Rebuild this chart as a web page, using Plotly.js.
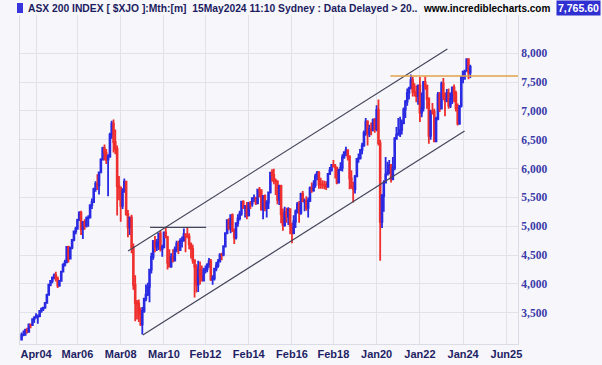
<!DOCTYPE html>
<html><head><meta charset="utf-8">
<script src="https://cdn.plot.ly/plotly-3.0.1.min.js"></script>
<style>html,body{margin:0;padding:0;background:#f7f7fb;} #chart{width:602px;height:365px;}</style>
</head><body><div id="chart"></div>
<script>
// Monthly ASX 200 ($XJO), first bar = Aug 2003
const firstYear = 2003, firstMonth = 8;
const openV = [
 3035,3115,3116,3199,3169,
 3299,3291,3386,3416,3434,3440,3533,3568,3589,3670,3811,3985,
 4050,4107,4150,4090,3972,4051,4211,4331,4373,4641,4438,4630,
 4763,4910,4959,5105,5230,4952,5073,5013,5140,5150,5366,5420,
 5644,5736,5711,5934,6155,6354,6274,6157,6209,6590,6779,6460,
 6340,5697,5674,5355,5599,5773,5215,4980,5150,4631,3982,3672,
 3659,3478,3296,3532,3745,3812,3948,4249,4469,4740,4646,4715,
 4870,4606,4632,4893,4809,4367,4301,4470,4405,4598,4697,4584,
 4745,4753,4862,4837,4823,4689,4608,4412,4296,3986,4243,4139,
 4057,4234,4257,4335,4396,4077,4095,4263,4317,4387,4509,4506,
 4649,4879,5104,4967,5191,4926,4803,5052,5135,5218,5425,5320,
 5352,5190,5404,5395,5489,5493,5396,5633,5625,5292,5526,5313,
 5411,5588,5929,5891,5790,5777,5459,5699,5207,5021,5239,5167,
 5296,5005,4880,5082,5252,5378,5233,5562,5433,5435,5317,5440,
 5665,5621,5712,5864,5924,5724,5721,5720,5715,5682,5909,5969,
 6065,6037,6016,5759,5983,6011,6195,6280,6320,6208,5830,5668,
 5646,5865,6169,6181,6326,6397,6619,6813,6604,6688,6663,6846,
 6684,7017,6441,5077,5522,5756,5898,5928,6061,5816,6011,6518,
 6587,6607,6673,6791,7025,7162,7313,7393,7535,7332,7324,7256,
 7445,6971,7049,7500,7435,7211,6568,6993,6987,6474,6863,7284,
 7039,7476,7258,7178,7309,7091,7203,7410,7305,7049,6781,7087,
 7591,7681,7699,7897,7664
];
const highV = [
 3155,3190,3220,3240,3310,
 3310,3400,3440,3490,3470,3545,3590,3600,3680,3830,4000,4060,
 4130,4180,4210,4130,4060,4230,4360,4420,4650,4660,4640,4780,
 4920,4990,5130,5260,5270,5090,5120,5170,5190,5370,5480,5670,
 5780,5900,5950,6180,6380,6420,6340,6250,6620,6830,6851,6680,
 6400,5870,5680,5660,5830,5780,5280,5170,5200,4700,4150,3720,
 3730,3590,3600,3760,3990,4020,4260,4540,4760,4830,4780,4890,
 4920,4680,4900,4980,4830,4600,4530,4600,4650,4750,4750,4790,
 4820,4960,4870,4970,4880,4720,4680,4420,4340,4400,4390,4320,
 4280,4320,4360,4450,4430,4150,4280,4380,4430,4530,4540,4670,
 4890,5110,5140,5200,5220,4960,5060,5210,5270,5440,5450,5360,
 5420,5420,5440,5500,5550,5510,5640,5680,5630,5530,5550,5450,
 5590,5940,5990,5996,5830,5800,5720,5720,5310,5340,5320,5330,
 5300,5060,5190,5290,5420,5440,5580,5610,5480,5520,5500,5690,
 5760,5800,5910,5960,5960,5840,5800,5790,5780,5920,6030,6080,
 6150,6080,6030,5990,6110,6250,6300,6380,6330,6230,5970,5770,
 5890,6180,6260,6330,6450,6660,6880,6840,6760,6800,6870,6880,
 7100,7197,6500,5560,5800,6200,6120,6150,6080,6200,6550,6720,
 6880,6900,6850,7060,7190,7390,7420,7632,7600,7480,7440,7460,
 7590,7320,7520,7600,7460,7240,7020,7140,7040,6900,7330,7330,
 7510,7570,7320,7380,7390,7320,7420,7460,7350,7130,7090,7600,
 7690,7710,7910,7900,7800
];
const lowV = [
 3030,3090,3110,3140,3160,
 3230,3270,3320,3400,3310,3420,3500,3530,3570,3660,3800,3960,
 4010,4080,4040,3930,3950,4040,4200,4300,4370,4370,4430,4600,
 4740,4860,4940,5100,4850,4780,4940,4980,4990,5140,5300,5410,
 5600,5630,5550,5930,6140,6140,6080,5520,6190,6520,6280,6250,
 5187,5450,5080,5300,5580,5180,4810,4850,4530,3900,3350,3380,
 3340,3270,3120,3500,3700,3790,3680,4180,4420,4550,4570,4590,
 4560,4470,4620,4800,4250,4290,4280,4370,4390,4550,4520,4570,
 4630,4730,4550,4790,4600,4440,4350,3765,3850,3860,3990,4050,
 4040,4180,4200,4280,4050,3985,4060,4220,4280,4380,4410,4480,
 4640,4860,4930,4880,4900,4690,4770,4990,5100,5180,5300,5150,
 5120,5170,5300,5340,5420,5370,5390,5500,5270,5120,5260,5150,
 5300,5570,5770,5730,5540,5380,5370,5050,4920,4990,5060,5020,
 4860,4707,4860,4970,5220,5060,5200,5430,5260,5270,5150,5420,
 5580,5600,5670,5800,5650,5650,5650,5640,5630,5670,5890,5950,
 6020,5830,5730,5750,5960,5950,6170,6220,6140,5640,5660,5410,
 5570,5850,6100,6160,6250,6380,6570,6400,6550,6580,6660,6620,
 6650,6400,4402,4970,5250,5740,5880,5900,5760,5800,5970,6500,
 6570,6550,6590,6770,6880,7090,7200,7380,7250,7250,7150,7110,
 6810,6890,6990,7370,7040,6430,6500,6940,6460,6480,6840,6980,
 7030,7190,6910,7150,7040,7050,7120,7150,6990,6750,6760,7060,
 7480,7540,7680,7550,7570
];
const closeV = [
 3115,3116,3199,3169,3299,
 3291,3386,3416,3434,3440,3533,3568,3589,3670,3811,3985,4050,
 4107,4150,4090,3972,4051,4211,4331,4373,4641,4438,4630,4763,
 4910,4959,5105,5230,4952,5073,5013,5140,5150,5366,5420,5644,
 5736,5711,5934,6155,6354,6274,6157,6209,6590,6779,6460,6340,
 5697,5674,5355,5599,5773,5215,4980,5150,4631,3982,3672,3659,
 3478,3296,3532,3745,3812,3948,4249,4469,4740,4646,4715,4870,
 4606,4632,4893,4809,4367,4301,4470,4405,4598,4697,4584,4745,
 4753,4862,4837,4823,4689,4608,4412,4296,3986,4243,4139,4057,
 4234,4257,4335,4396,4077,4095,4263,4317,4387,4509,4506,4649,
 4879,5104,4967,5191,4926,4803,5052,5135,5218,5425,5320,5352,
 5190,5404,5395,5489,5493,5396,5633,5625,5292,5526,5313,5411,
 5588,5929,5891,5790,5777,5459,5699,5207,5021,5239,5167,5296,
 5005,4880,5082,5252,5378,5233,5562,5433,5435,5317,5440,5665,
 5621,5712,5864,5924,5724,5721,5720,5715,5682,5909,5969,6065,
 6037,6016,5759,5983,6011,6195,6280,6320,6208,5830,5668,5646,
 5865,6169,6181,6326,6397,6619,6813,6604,6688,6663,6846,6684,
 7017,6441,5077,5522,5756,5898,5928,6061,5816,6011,6518,6587,
 6607,6673,6791,7025,7162,7313,7393,7535,7332,7324,7256,7445,
 6971,7049,7500,7435,7211,6568,6993,6987,6474,6863,7284,7039,
 7476,7258,7178,7309,7091,7203,7410,7305,7049,6781,7087,7591,
 7681,7699,7897,7664,7766
];
const tickDates = ['2004-04-01','2006-03-01','2008-03-01','2010-03-01','2012-02-01','2014-02-01',
                   '2016-02-01','2018-01-01','2020-01-01','2022-01-01','2024-01-01','2026-01-01'];
const tickLabels = ['Apr04','Mar06','Mar08','Mar10','Feb12','Feb14','Feb16','Feb18','Jan20','Jan22','Jan24','Jun25'];
const yTicks = [3500,4000,4500,5000,5500,6000,6500,7000,7500,8000];
// drawn trend lines
const upperChannelX = ['2008-07-04','2023-04-10'], upperChannelY = [4570, 8075];
const lowerChannelX = ['2009-03-10','2024-01-25'], lowerChannelY = [3113, 6651];
const resistanceX = ['2009-07-10','2012-02-12'], resistanceY = [4980, 4980];
const orangeX = ['2020-08-21','2026-07-16'], orangeY = [7606, 7606];
const headerText = 'ASX 200 INDEX [ $XJO ]:Mth:[m]\u00a0\u00a015May2024 11:10 Sydney : Data Delayed > 20..';
const siteText = 'www.incrediblecharts.com';
const lastPrice = '7,765.60';

const months = [];
for (let i = 0; i < closeV.length; i++) {
  const t = firstMonth - 1 + i;
  const y = firstYear + Math.floor(t / 12), m = (t % 12) + 1;
  months.push(y + '-' + String(m).padStart(2, '0') + '-01');
}

const BLUE = '#2a2ae2', RED = '#ef2e2e';
const traces = [
  {type:'candlestick', x:months, open:openV, high:highV, low:lowV, close:closeV,
   increasing:{line:{color:BLUE,width:1.8}, fillcolor:BLUE},
   decreasing:{line:{color:RED,width:1.8}, fillcolor:RED},
   whiskerwidth:0, hoverinfo:'skip'},
  {type:'scatter', mode:'lines', x:upperChannelX, y:upperChannelY, line:{color:'#44445a',width:1.2}, hoverinfo:'skip'},
  {type:'scatter', mode:'lines', x:lowerChannelX, y:lowerChannelY, line:{color:'#44445a',width:1.2}, hoverinfo:'skip'},
  {type:'scatter', mode:'lines', x:resistanceX, y:resistanceY, line:{color:'#44445a',width:1.4}, hoverinfo:'skip'},
  {type:'scatter', mode:'lines', x:orangeX, y:orangeY, line:{color:'#e2a24a',width:1.5}, hoverinfo:'skip'}
];

const L = 20, R = 518, T = 15, B = 344;
const px = v => (v - L) / (R - L);
const py = v => (B - v) / (B - T);

const layout = {
  width:602, height:365,
  margin:{l:L, r:602-R, t:T, b:365-B, pad:0},
  paper_bgcolor:'#f7f7fb', plot_bgcolor:'#f7f7fb',
  showlegend:false,
  xaxis:{type:'date', range:['2003-07-05','2026-07-16'], tickmode:'array', tickvals:tickDates, ticktext:tickLabels,
         showgrid:true, gridcolor:'#e2e2ea', gridwidth:1, zeroline:false, ticks:'',
         showline:true, linecolor:'#dcdce6', linewidth:1,
         rangeslider:{visible:false},
         tickfont:{family:'Liberation Sans, Arial, sans-serif', size:11, color:'#1e1e64', weight:'bold'}},
  yaxis:{side:'right', range:[2957, 8665], tickmode:'array', tickvals:yTicks, tickformat:',d',
         showgrid:true, gridcolor:'#e2e2ea', gridwidth:1, zeroline:false, ticks:'',
         showline:true, mirror:true, linecolor:'#dcdce6', linewidth:1,
         tickfont:{family:'Liberation Serif, Times New Roman, serif', size:11.5, color:'#3a3aa8', weight:'bold'}},
  shapes:[{type:'rect', xref:'paper', yref:'paper', x0:px(17), x1:px(23), y0:py(13), y1:py(3),
           fillcolor:'#3636dc', line:{width:0}}],
  annotations:[
    {xref:'paper', yref:'paper', x:px(26), y:py(8.5), xanchor:'left', yanchor:'middle', showarrow:false,
     text:headerText, font:{family:'Liberation Sans, Arial, sans-serif', size:10.3, color:'#1c1c60', weight:'bold'}},
    {xref:'paper', yref:'paper', x:px(421), y:py(8.5), xanchor:'left', yanchor:'middle', showarrow:false,
     text:siteText, font:{family:'Liberation Sans, Arial, sans-serif', size:10, color:'#000000', weight:'bold'}},
    {xref:'paper', yref:'paper', x:px(601), y:py(8.5), xanchor:'right', yanchor:'middle', showarrow:false,
     text:lastPrice, bgcolor:'#3030d2', borderpad:1,
     font:{family:'Liberation Sans, Arial, sans-serif', size:10.5, color:'#ffffff', weight:'bold'}}
  ]
};
Plotly.newPlot('chart', traces, layout, {displayModeBar:false, staticPlot:true});
</script>
</body></html>
